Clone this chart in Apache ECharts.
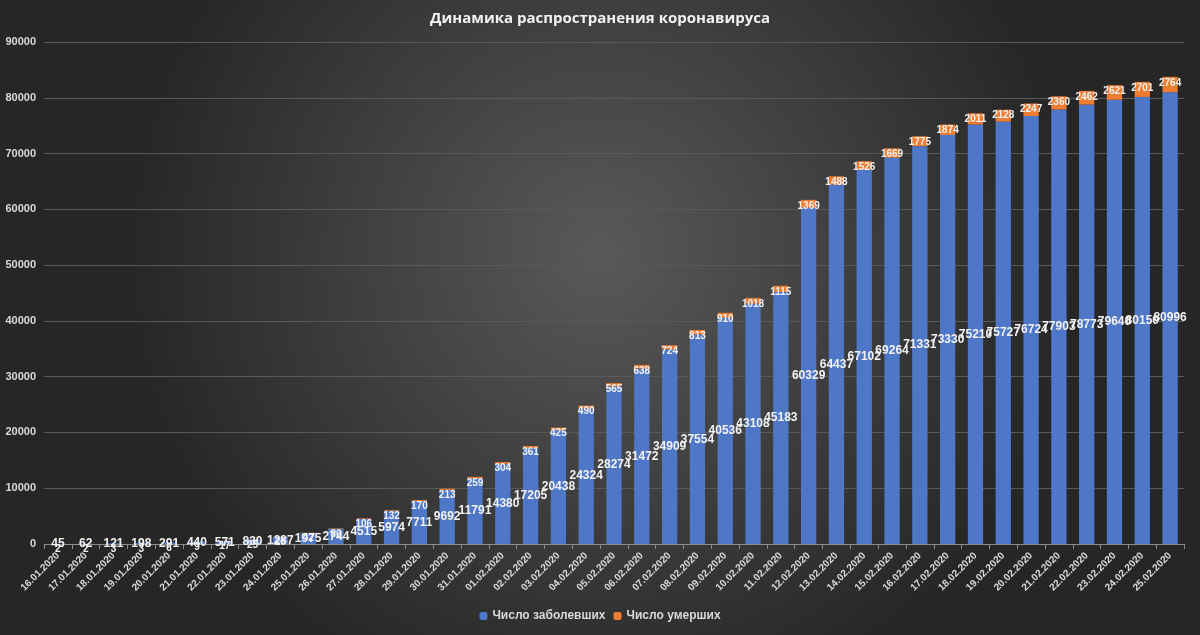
<!DOCTYPE html>
<html lang="ru">
<head>
    <meta charset="UTF-8">
    <title>Динамика распространения коронавируса</title>
    <script src="https://cdn.jsdelivr.net/npm/echarts@6/dist/echarts.min.js"></script>
</head>
<body style="margin:0">
<div id="main" style="width:1200px;height:635px;"></div>
<script type="text/javascript">
    var dates = ['16.01.2020','17.01.2020','18.01.2020','19.01.2020','20.01.2020','21.01.2020','22.01.2020','23.01.2020','24.01.2020','25.01.2020','26.01.2020','27.01.2020','28.01.2020','29.01.2020','30.01.2020','31.01.2020','01.02.2020','02.02.2020','03.02.2020','04.02.2020','05.02.2020','06.02.2020','07.02.2020','08.02.2020','09.02.2020','10.02.2020','11.02.2020','12.02.2020','13.02.2020','14.02.2020','15.02.2020','16.02.2020','17.02.2020','18.02.2020','19.02.2020','20.02.2020','21.02.2020','22.02.2020','23.02.2020','24.02.2020','25.02.2020'];
    var cases = [45,62,121,198,291,440,571,830,1287,1975,2744,4515,5974,7711,9692,11791,14380,17205,20438,24324,28274,31472,34909,37554,40536,43108,45183,60329,64437,67102,69264,71331,73330,75210,75727,76724,77903,78773,79640,80150,80996];
    var deaths = [2,2,3,3,6,9,17,25,26,42,80,106,132,170,213,259,304,361,425,490,565,638,724,813,910,1018,1115,1369,1488,1526,1669,1775,1874,2011,2128,2247,2360,2462,2621,2701,2764];

    var myChart = echarts.init(document.getElementById('main'));
    var option = {
        backgroundColor: {
            type: 'radial', x: 0.5, y: 0.4, r: 0.75,
            colorStops: [{offset: 0, color: '#595959'}, {offset: 1, color: '#262626'}]
        },
        title: {
            text: 'Динамика распространения коронавируса',
            left: 'center', top: 6,
            textStyle: {color: '#f2f2f2', fontSize: 15, fontWeight: 'bold', fontFamily: 'Open Sans'}
        },
        legend: {
            bottom: 8,
            itemWidth: 8, itemHeight: 8,
            textStyle: {color: '#d9d9d9', fontSize: 12, fontWeight: 'bold'},
            data: ['Число заболевших', 'Число умерших']
        },
        grid: {left: 44, right: 16, top: 42, bottom: 91},
        xAxis: {
            type: 'category',
            data: dates,
            axisLine: {lineStyle: {color: '#8c8c8c'}},
            axisTick: {show: true, lineStyle: {color: '#8c8c8c'}},
            axisLabel: {rotate: 45, color: '#d9d9d9', fontSize: 10, fontWeight: 'bold', interval: 0, margin: 10}
        },
        yAxis: {
            type: 'value', min: 0, max: 90000, interval: 10000,
            axisLabel: {color: '#d9d9d9', fontSize: 11, fontWeight: 'bold', formatter: function (v) { return String(v); }},
            splitLine: {lineStyle: {color: '#595959'}}
        },
        series: [
            {
                name: 'Число заболевших', type: 'bar', stack: 'total', barWidth: '55%',
                itemStyle: {color: '#4f77c7'},
                label: {show: true, position: 'inside', color: '#f2f2f2', fontSize: 12, fontWeight: 'bold'},
                data: cases
            },
            {
                name: 'Число умерших', type: 'bar', stack: 'total',
                itemStyle: {color: '#ed7d31'},
                label: {show: true, position: 'insideTop', color: '#f2f2f2', fontSize: 10, fontWeight: 'bold', distance: 1},
                data: deaths
            }
        ]
    };
    myChart.setOption(option);
</script>
</body>
</html>
